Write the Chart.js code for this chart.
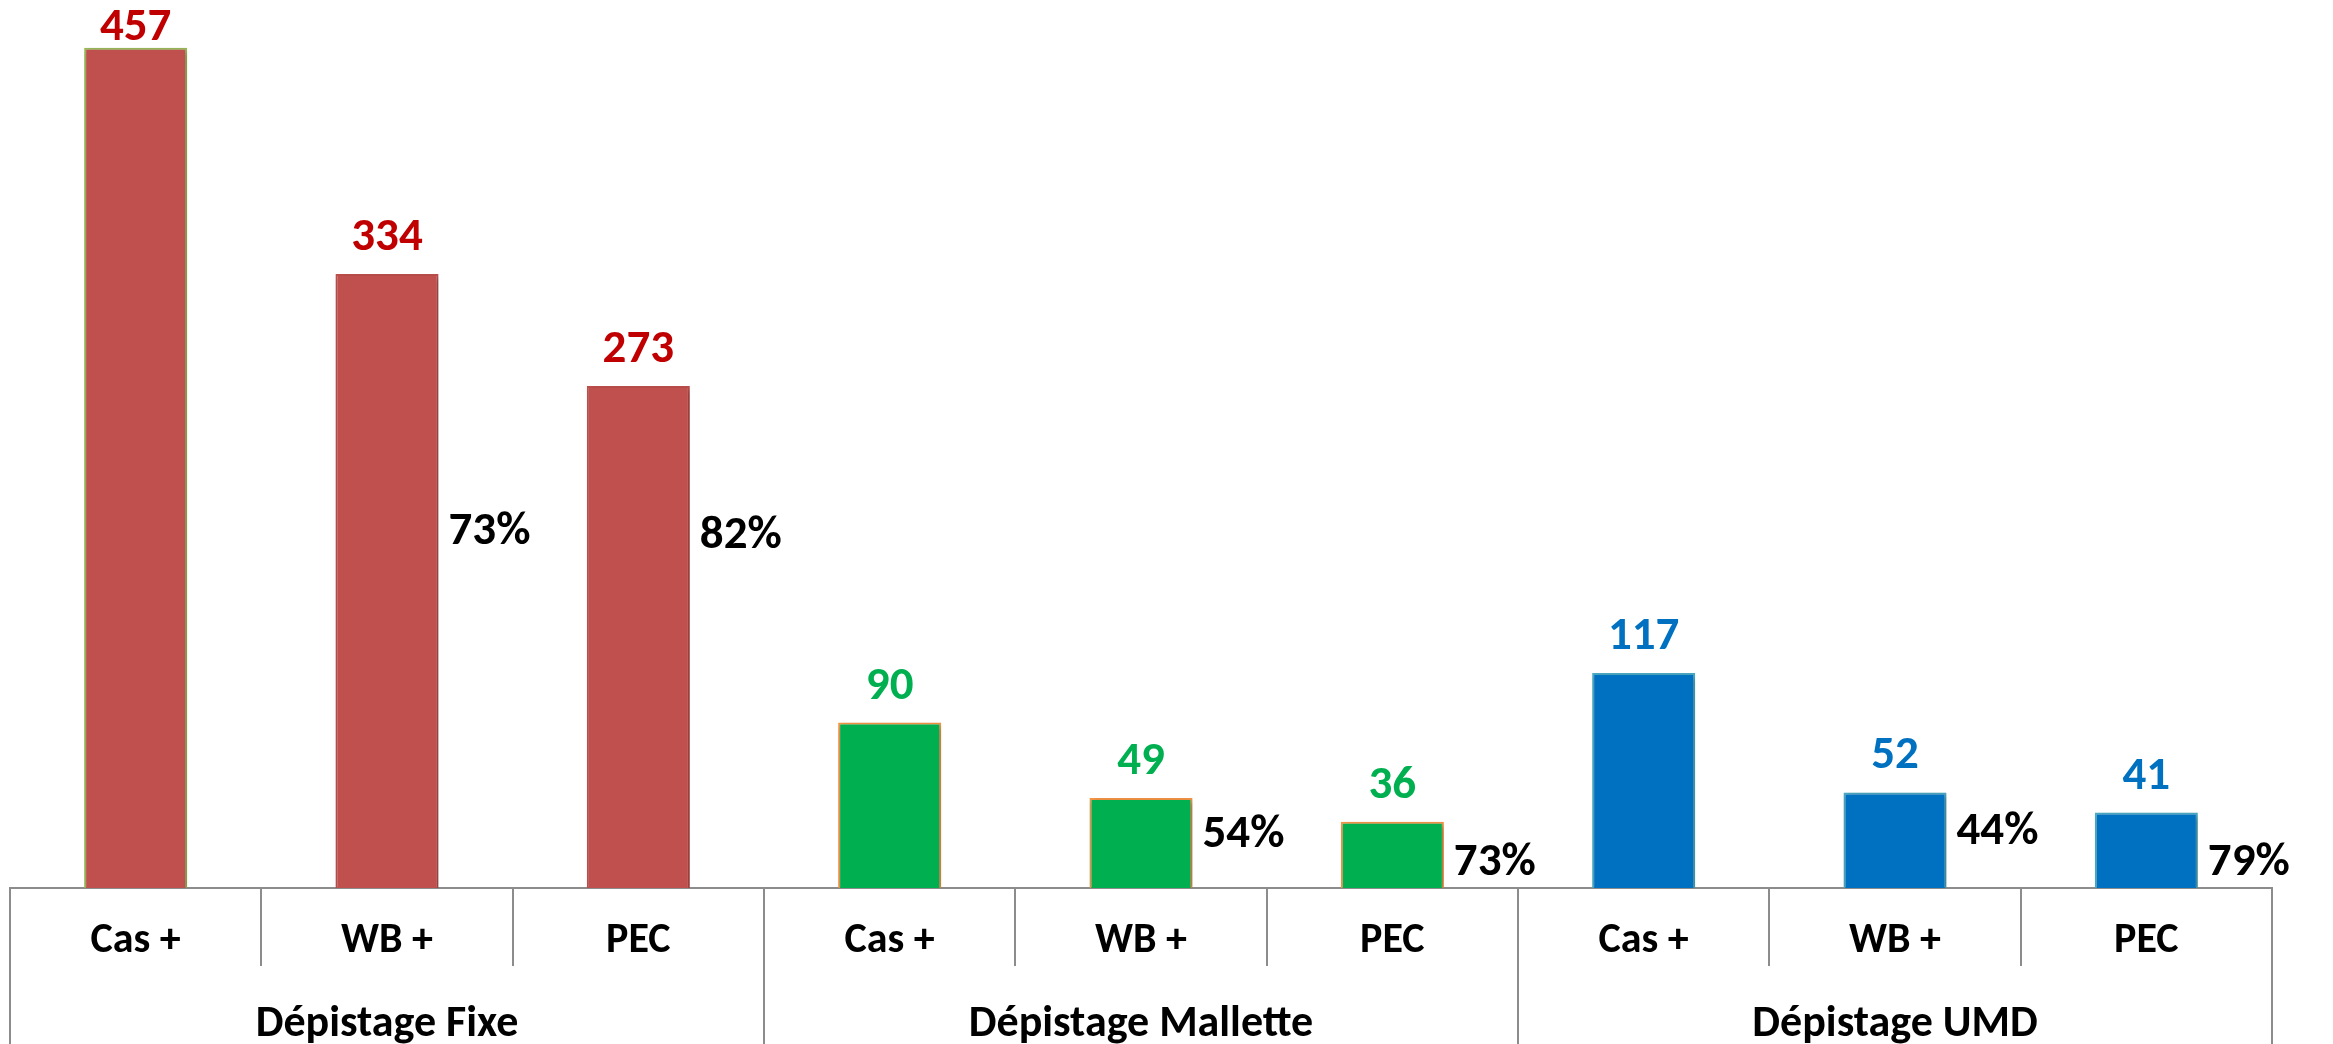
<!DOCTYPE html>
<html>
<head>
<meta charset="utf-8">
<script src="https://cdn.jsdelivr.net/npm/chart.js@4.4.1/dist/chart.umd.min.js"></script>
<style>
  html, body { margin: 0; padding: 0; background: #fff; }
  #wrap { width: 2333px; height: 1044px; }
</style>
</head>
<body>
<div id="wrap"><canvas id="c" width="2333" height="1044"></canvas></div>
<script>
// données
const groups = ['Dépistage Fixe', 'Dépistage Mallette', 'Dépistage UMD'];
const subLabels = ['Cas +', 'WB +', 'PEC'];
const values = [457, 334, 273, 90, 49, 36, 117, 52, 41];
const pctLabels = ['', '73%', '82%', '', '54%', '73%', '', '44%', '79%'];

const fills = ['#C0504D', '#00B050', '#0070C0'];
const edges = ['#C0504D', '#F79646', '#4BACC6'];
const textColors = ['#C00000', '#00B050', '#0070C0'];

const labels = [];
groups.forEach(() => subLabels.forEach(s => labels.push(s)));

const FONT = 'Carlito, "Liberation Sans", sans-serif';
const lineCol = '#8C8C8C';

const bg = values.map((v, i) => fills[Math.floor(i / 3)]);
const bc = values.map((v, i) => i === 0 ? '#9BBB59' : edges[Math.floor(i / 3)]);

// ombre légère sous les barres
const shadowPlugin = {
    id: 'shadow',
    beforeDatasetsDraw(chart) {
        const ctx = chart.ctx;
        ctx.save();
        ctx.shadowColor = 'rgba(0,0,0,0.3)';
        ctx.shadowBlur = 6;
        ctx.shadowOffsetX = 2;
        ctx.shadowOffsetY = 2;
    },
    afterDatasetsDraw(chart) {
        chart.ctx.restore();
    }
};

// étiquettes des valeurs + pourcentages
const labelPlugin = {
    id: 'labels',
    afterDatasetsDraw(chart) {
        const ctx = chart.ctx;
        const meta = chart.getDatasetMeta(0);
        const base = chart.scales.y.getPixelForValue(0);
        ctx.save();
        ctx.font = 'bold 47px ' + FONT;
        meta.data.forEach((bar, i) => {
            ctx.fillStyle = textColors[Math.floor(i / 3)];
            ctx.textAlign = 'center';
            ctx.textBaseline = 'alphabetic';
            // pas plus haut que le bord du canvas
            ctx.fillText(String(values[i]), bar.x, Math.max(bar.y - 24, 40));

            if (pctLabels[i]) {
                // le % est posé à droite de la barre, vers le bas pour les petites barres
                const h = base - bar.y;
                let py = base - h * (i % 3 === 1 ? 0.58 : 0.7);
                if (i % 3 === 2 && h < 200) py = base - 25;
                ctx.fillStyle = '#000';
                ctx.textAlign = 'left';
                ctx.textBaseline = 'middle';
                ctx.fillText(pctLabels[i], bar.x + bar.width / 2 + 10, py);
            }
        });
        ctx.restore();
    }
};

// séparateurs de l'axe et libellés des groupes
const groupAxisPlugin = {
    id: 'groupAxis',
    afterDraw(chart) {
        const ctx = chart.ctx;
        const x = chart.scales.x;
        const base = chart.chartArea.bottom;
        const step = x.getPixelForValue(1) - x.getPixelForValue(0);
        ctx.save();
        ctx.strokeStyle = lineCol;
        ctx.lineWidth = 2;
        for (let i = 0; i <= labels.length; i++) {
            const px = Math.round(x.getPixelForValue(0) - step / 2 + i * step);
            const bottom = (i % 3 === 0) ? chart.height : base + 78;
            ctx.beginPath();
            ctx.moveTo(px, base);
            ctx.lineTo(px, bottom);
            ctx.stroke();
        }
        ctx.fillStyle = '#000';
        ctx.font = 'bold 44px ' + FONT;
        ctx.textAlign = 'center';
        ctx.textBaseline = 'alphabetic';
        groups.forEach((g, gi) => {
            const cx = x.getPixelForValue(gi * 3 + 1);
            ctx.fillText(g, cx, base + 148);
        });
        ctx.restore();
    }
};

new Chart(document.getElementById('c').getContext('2d'), {
    type: 'bar',
    data: {
        labels: labels,
        datasets: [{
            data: values,
            backgroundColor: bg,
            borderColor: bc,
            borderWidth: 2,
            barPercentage: 0.41,
            categoryPercentage: 1.0
        }]
    },
    options: {
        responsive: false,
        animation: false,
        events: [],
        layout: { padding: { left: 10, right: 61, top: 0, bottom: 0 } },
        plugins: {
            legend: { display: false },
            tooltip: { enabled: false }
        },
        scales: {
            x: {
                grid: { display: false, drawTicks: false },
                border: { display: true, color: lineCol, width: 2 },
                ticks: {
                    color: '#000',
                    font: { family: FONT, size: 42, weight: 'bold' },
                    padding: 28,
                    maxRotation: 0,
                    autoSkip: false
                },
                afterFit(scale) { scale.height = 156; }
            },
            y: {
                display: false,
                min: 0,
                max: 483
            }
        }
    },
    plugins: [shadowPlugin, labelPlugin, groupAxisPlugin]
});
</script>
</body>
</html>
